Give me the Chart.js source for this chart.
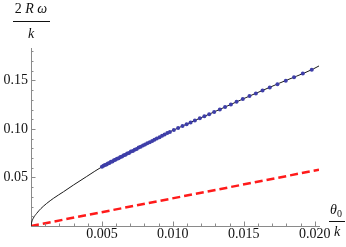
<!DOCTYPE html>
<html>
<head>
<meta charset="utf-8">
<script src="https://cdn.jsdelivr.net/npm/chart.js@4.4.1/dist/chart.umd.min.js"></script>
<style>
  html, body { margin: 0; padding: 0; background: #fff; }
  #chart { display: block; }
</style>
</head>
<body>
<canvas id="chart" width="346" height="247"></canvas>
<script>
// axis ranges and ticks
const xMax = 0.0203;
const yMax = 0.1835;
const xMajorTicks = [0.005, 0.010, 0.015, 0.020];
const yMajorTicks = [0.05, 0.10, 0.15];
const xMinorStep = 0.001;
const yMinorStep = 0.01;

// black curve
const curveX = [0, 0.00005, 0.00016, 0.0004, 0.0007, 0.0011, 0.0016, 0.0023, 0.003, 0.0039, 0.0051,
  0.0075, 0.0098, 0.0125, 0.0153, 0.0175, 0.0199, 0.0203];
const curveY = [0, 0.0040, 0.0080, 0.0130, 0.0180, 0.0232, 0.0287, 0.0354, 0.0423, 0.0508, 0.0619,
  0.0799, 0.0972, 0.1149, 0.1333, 0.1472, 0.1619, 0.1650];

// blue sample points
const dotsX = [0.00500, 0.00511, 0.00521, 0.00532, 0.00542, 0.00553, 0.00563, 0.00574, 0.00585, 0.00595,
  0.00606, 0.00618, 0.00630, 0.00642, 0.00654, 0.00666, 0.00678, 0.00691, 0.00704, 0.00718,
  0.00731, 0.00745, 0.00759, 0.00773, 0.00789, 0.00804, 0.00820, 0.00837, 0.00854, 0.00870,
  0.00887, 0.00906, 0.00924, 0.00942, 0.00961, 0.00979, 0.01007, 0.01037, 0.01068, 0.01097,
  0.01125, 0.01155, 0.01190, 0.01222, 0.01256, 0.01291, 0.01331, 0.01368, 0.01409, 0.01449,
  0.01493, 0.01540, 0.01585, 0.01632, 0.01683, 0.01737, 0.01796, 0.01854, 0.01916, 0.01979];
const dotsY = [0.0612, 0.0620, 0.0630, 0.0634, 0.0645, 0.0650, 0.0662, 0.0666, 0.0678, 0.0682,
  0.0693, 0.0699, 0.0712, 0.0717, 0.0729, 0.0735, 0.0748, 0.0753, 0.0767, 0.0774,
  0.0787, 0.0795, 0.0808, 0.0816, 0.0830, 0.0839, 0.0853, 0.0864, 0.0877, 0.0889,
  0.0903, 0.0915, 0.0931, 0.0943, 0.0958, 0.0970, 0.0990, 0.1010, 0.1030, 0.1048,
  0.1067, 0.1087, 0.1110, 0.1131, 0.1153, 0.1176, 0.1202, 0.1227, 0.1253, 0.1280,
  0.1309, 0.1339, 0.1367, 0.1396, 0.1428, 0.1462, 0.1498, 0.1534, 0.1573, 0.1612];

// red dashed line
const lineX = [0, 0.0203];
const lineY = [0, 0.0580];

const toPoints = (xs, ys) => xs.map((x, i) => ({ x: x, y: ys[i] }));

const axisColor = '#8a8a8a';
const labelFont = { family: 'Liberation Serif', size: 14 };

// inward ticks + axis titles, Mathematica style
const axesPlugin = {
  id: 'axesDeco',
  afterDraw(chart) {
    const ctx = chart.ctx;
    const xs = chart.scales.x, ys = chart.scales.y;
    const area = chart.chartArea;
    ctx.save();
    ctx.strokeStyle = axisColor;
    ctx.lineWidth = 1;
    // x ticks
    for (let i = 1; i * xMinorStep <= xMax + 1e-9; i++) {
      const v = i * xMinorStep;
      const major = xMajorTicks.some(t => Math.abs(t - v) < 1e-9);
      const px = Math.round(xs.getPixelForValue(v)) + 0.5;
      ctx.beginPath();
      ctx.moveTo(px, area.bottom);
      ctx.lineTo(px, area.bottom - (major ? 4.5 : 2.5));
      ctx.stroke();
    }
    // y ticks
    for (let i = 1; i * yMinorStep <= yMax + 1e-9; i++) {
      const v = i * yMinorStep;
      const major = yMajorTicks.some(t => Math.abs(t - v) < 1e-9);
      const py = Math.round(ys.getPixelForValue(v)) + 0.5;
      ctx.beginPath();
      ctx.moveTo(area.left, py);
      ctx.lineTo(area.left + (major ? 4.5 : 2.5), py);
      ctx.stroke();
    }

    ctx.fillStyle = '#111';
    ctx.strokeStyle = '#111';
    ctx.textBaseline = 'middle';
    const roman = '14px "Liberation Serif"';
    const italic = 'italic 14px "Liberation Serif"';
    // y title: 2 R ω / k
    const cx = area.left;
    ctx.font = roman;
    const w1 = ctx.measureText('2 ').width;
    ctx.font = italic;
    const w2 = ctx.measureText('R ω').width;
    const sx = cx - (w1 + w2) / 2;
    ctx.textAlign = 'left';
    ctx.font = roman;
    ctx.fillText('2 ', sx, 9);
    ctx.font = italic;
    ctx.fillText('R ω', sx + w1, 9);
    ctx.beginPath();
    ctx.moveTo(cx - 18, 21.5);
    ctx.lineTo(cx + 19, 21.5);
    ctx.stroke();
    ctx.textAlign = 'center';
    ctx.fillText('k', cx, 34);

    // x title: θ0 / k
    const rx = 337;
    ctx.font = italic;
    const wt = ctx.measureText('θ').width;
    ctx.textAlign = 'left';
    ctx.fillText('θ', rx - 7, 210);
    ctx.font = '10px "Liberation Serif"';
    ctx.fillText('0', rx - 7 + wt, 214);
    ctx.beginPath();
    ctx.moveTo(329, 221.5);
    ctx.lineTo(345, 221.5);
    ctx.stroke();
    ctx.font = italic;
    ctx.textAlign = 'center';
    ctx.fillText('k', rx, 232);
    ctx.restore();
  }
};

new Chart(document.getElementById('chart'), {
  type: 'scatter',
  data: {
    datasets: [
      {
        label: 'dots',
        data: toPoints(dotsX, dotsY),
        pointRadius: 2,
        pointBackgroundColor: 'rgb(62,62,168)',
        pointBorderWidth: 0,
        showLine: false,
        order: 0
      },
      {
        label: 'curve',
        data: toPoints(curveX, curveY),
        showLine: true,
        borderColor: '#1a1a1a',
        borderWidth: 1,
        pointRadius: 0,
        cubicInterpolationMode: 'monotone',
        order: 1
      },
      {
        label: 'line',
        data: toPoints(lineX, lineY),
        showLine: true,
        borderColor: '#ff1a1a',
        borderWidth: 2.5,
        borderDash: [8, 4],
        pointRadius: 0,
        order: 2
      }
    ]
  },
  options: {
    responsive: false,
    animation: false,
    layout: { padding: { top: 48, right: 27, left: 0, bottom: 0 } },
    plugins: { legend: { display: false }, tooltip: { enabled: false } },
    scales: {
      x: {
        type: 'linear',
        min: 0,
        max: xMax,
        afterFit: s => { s.height = 21; },
        afterBuildTicks: s => { s.ticks = xMajorTicks.map(v => ({ value: v })); },
        grid: { display: false, drawTicks: false },
        border: { display: true, color: axisColor, width: 1 },
        ticks: {
          padding: 0,
          maxRotation: 0,
          autoSkip: false,
          color: '#111',
          font: labelFont,
          callback: v => v.toFixed(3)
        }
      },
      y: {
        type: 'linear',
        min: 0,
        max: yMax,
        afterFit: s => { s.width = 31; },
        afterBuildTicks: s => { s.ticks = yMajorTicks.map(v => ({ value: v })); },
        grid: { display: false, drawTicks: false },
        border: { display: true, color: axisColor, width: 1 },
        ticks: {
          padding: 3,
          autoSkip: false,
          color: '#111',
          font: labelFont,
          callback: v => v.toFixed(2)
        }
      }
    }
  },
  plugins: [axesPlugin]
});
</script>
</body>
</html>
